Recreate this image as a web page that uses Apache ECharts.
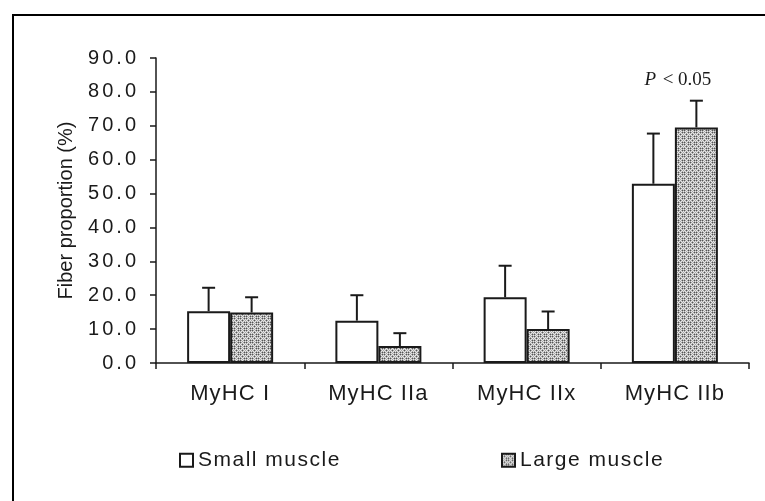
<!DOCTYPE html>
<html><head><meta charset="utf-8">
<script src="https://cdn.jsdelivr.net/npm/echarts@6/dist/echarts.min.js"></script>
<style>html,body{margin:0;padding:0;background:#fff}#c{width:765px;height:501px}</style>
</head><body><div id="c"></div>
<script>
// ---------- data ----------
const categories = ['MyHC I', 'MyHC IIa', 'MyHC IIx', 'MyHC IIb'];
const seriesNames = ['Small muscle', 'Large muscle'];
const smallMean = [15.3, 12.5, 19.4, 52.9];
const smallErr  = [6.9, 7.5, 9.3, 14.8];
const largeMean = [14.9, 5.0, 10.0, 69.5];
const largeErr  = [4.5, 3.8, 5.2, 7.9];
const yMin = 0, yMax = 90, yStep = 10;
const yName = 'Fiber proportion (%)';
const sigText = { italic: 'P', rest: '< 0.05', index: 3 };

// ---------- styling helpers ----------
const SP_FAMILY = 'Liberation Sans, Arial, sans-serif';   // letter-spaced text
const PLAIN_FAMILY = 'Liberation Sans';
const SPACING = { 20: 3, 22: 1.1, 21: 1.5 };
(function () {
  const d = Object.getOwnPropertyDescriptor(CanvasRenderingContext2D.prototype, 'font');
  if (!d || !d.set) return;
  Object.defineProperty(CanvasRenderingContext2D.prototype, 'font', {
    configurable: true,
    get: d.get,
    set: function (v) {
      d.set.call(this, v);
      if ('letterSpacing' in this) {
        let sp = 0;
        if (/Arial/.test(v)) {
          const m = /(\d+(?:\.\d+)?)px/.exec(v);
          sp = m ? (SPACING[+m[1]] || 0) : 0;
        }
        this.letterSpacing = sp + 'px';
      }
    }
  });
})();

function makePattern() {
  const rows = [
    'DgwgDg',
    'gwgwgw',
    'wgDgwg',
    'gwgwgw',
    'DgwgDg',
    'gwgwgw'
  ];
  const col = { D: '#555555', g: '#a8a8a8', w: '#e6e6e6' };
  const c = document.createElement('canvas');
  c.width = 6; c.height = 6;
  const g = c.getContext('2d');
  rows.forEach((r, y) => r.split('').forEach((ch, x) => { g.fillStyle = col[ch]; g.fillRect(x, y, 1, 1); }));
  return c;
}
const pattern = { image: makePattern(), repeat: 'repeat' };

const BAR_W = 43, CAP = 13, INK = '#1a1a1a';

function errRender(sign, withSig) {
  return function (params, api) {
    const i = api.value(0), m = api.value(1), e = api.value(2);
    const base = api.coord([i, m]);
    const top = api.coord([i, m + e]);
    const x = base[0] + sign * BAR_W / 2;
    const st = { stroke: INK, lineWidth: 2 };
    const children = [
      { type: 'line', shape: { x1: x, y1: base[1], x2: x, y2: top[1] }, style: st },
      { type: 'line', shape: { x1: x - CAP / 2, y1: top[1], x2: x + CAP / 2, y2: top[1] }, style: st }
    ];
    if (withSig && i === sigText.index) {
      children.push({
        type: 'text',
        x: base[0] + 3, y: top[1] - 21,
        style: {
          text: '{i|' + sigText.italic + '}  {n|' + sigText.rest + '}',
          align: 'center', verticalAlign: 'middle',
          rich: {
            i: { fontFamily: 'Liberation Serif', fontStyle: 'italic', fontSize: 19, fill: INK },
            n: { fontFamily: 'Liberation Serif', fontSize: 19, fill: INK }
          }
        }
      });
    }
    return { type: 'group', children };
  };
}

const chart = echarts.init(document.getElementById('c'), null, { renderer: 'canvas' });
chart.setOption({
  animation: false,
  backgroundColor: '#fff',
  graphic: [{
    type: 'rect', silent: true, z: 100,
    shape: { x: 13, y: 15, width: 900, height: 700 },
    style: { fill: 'none', stroke: '#000', lineWidth: 2 }
  }],
  grid: { left: 156, right: 16, top: 58, bottom: 138, outerBoundsMode: 'none', containLabel: false },
  legend: [
    {
      data: [seriesNames[0]], left: 174, top: 444, icon: 'rect', itemWidth: 13, itemHeight: 13,
      textStyle: { fontSize: 21, fontFamily: SP_FAMILY, color: INK }, selectedMode: false
    },
    {
      data: [seriesNames[1]], left: 496, top: 444, icon: 'rect', itemWidth: 13, itemHeight: 13,
      textStyle: { fontSize: 21, fontFamily: SP_FAMILY, color: INK }, selectedMode: false
    }
  ],
  xAxis: {
    type: 'category', data: categories, boundaryGap: true,
    axisLine: { show: true, lineStyle: { color: INK, width: 1.5 } },
    axisTick: { show: true, alignWithLabel: false, length: 6, lineStyle: { color: INK, width: 1.5 } },
    axisLabel: { margin: 19, fontSize: 22, fontFamily: SP_FAMILY, color: INK },
    splitLine: { show: false }
  },
  yAxis: {
    type: 'value', min: yMin, max: yMax, interval: yStep,
    name: yName, nameLocation: 'middle', nameGap: 80, nameRotate: 90,
    nameTextStyle: { fontSize: 20, fontFamily: PLAIN_FAMILY, color: INK },
    axisLine: { show: true, lineStyle: { color: INK, width: 1.5 } },
    axisTick: { show: true, length: 6, lineStyle: { color: INK, width: 1.5 } },
    axisLabel: { margin: 17, fontSize: 20, fontFamily: SP_FAMILY, color: INK, formatter: v => v.toFixed(1) },
    splitLine: { show: false }
  },
  series: [
    {
      name: seriesNames[0], type: 'bar', data: smallMean, barWidth: BAR_W, barGap: '0%',
      itemStyle: { color: '#fff', borderColor: INK, borderWidth: 2 }, z: 2
    },
    {
      name: seriesNames[1], type: 'bar', data: largeMean, barWidth: BAR_W, barGap: '0%',
      itemStyle: { color: pattern, borderColor: INK, borderWidth: 2 }, z: 2
    },
    {
      name: 'errSmall', type: 'custom', renderItem: errRender(-1, false), z: 3,
      encode: { x: 0, y: 1 },
      data: categories.map((c, i) => [i, smallMean[i], smallErr[i]])
    },
    {
      name: 'errLarge', type: 'custom', renderItem: errRender(1, true), z: 3,
      encode: { x: 0, y: 1 },
      data: categories.map((c, i) => [i, largeMean[i], largeErr[i]])
    }
  ]
});
</script>
</body></html>
